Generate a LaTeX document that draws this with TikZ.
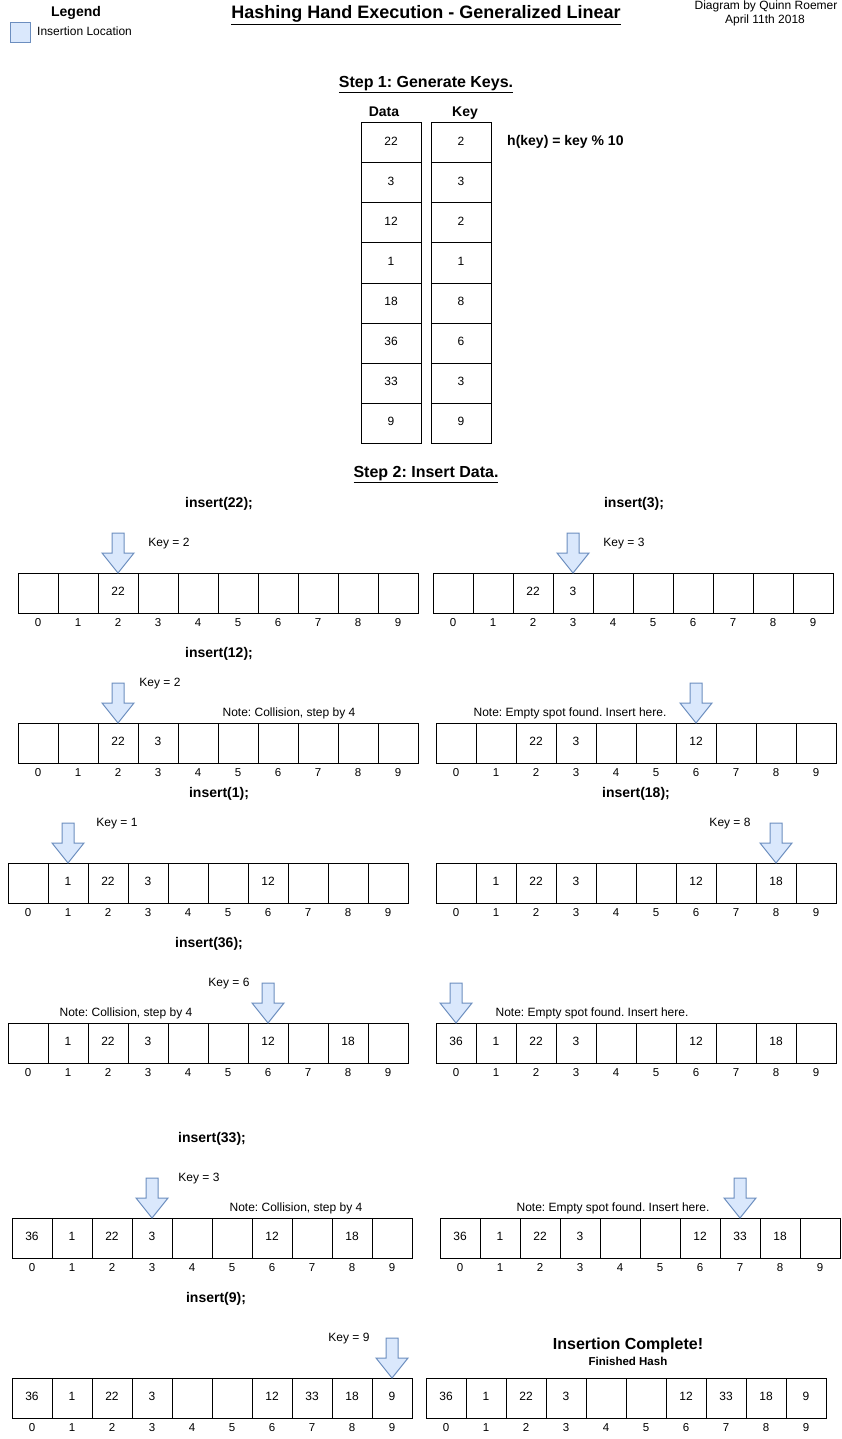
\documentclass[tikz,border=0pt]{standalone}
\usepackage{fontspec}
\setmainfont{Liberation Sans}
\frenchspacing
\usetikzlibrary{calc}
\definecolor{arrowfill}{HTML}{DAE8FC}
\definecolor{arrowline}{HTML}{6C8EBF}
\tikzset{
  cell/.style={draw=black, line width=1pt, minimum width=40pt, minimum height=40pt, inner sep=0pt, outer sep=0pt, text height=8.6pt, text depth=3pt, font=\fontsize{12}{14}\selectfont},
  tcell/.style={cell, minimum width=60pt},
  idx/.style={inner sep=0pt, anchor=base, yshift=-4.3pt, font=\fontsize{11.5}{13}\selectfont},
  lbl/.style={inner sep=0pt, anchor=base, yshift=-4.3pt, font=\fontsize{12}{14}\selectfont},
  blbl/.style={inner sep=0pt, anchor=base, yshift=-5pt, font=\fontsize{14}{16}\selectfont\bfseries},
  hbig/.style={inner sep=0pt, anchor=base, yshift=-5.8pt, font=\fontsize{16}{18}\selectfont\bfseries},
  barrow/.style={draw=arrowline, fill=arrowfill, line width=1pt, line join=miter},
}
\newcommand{\hashrow}[4]{%
  \foreach \v [count=\i from 0] in {#4} {
    \node[cell] (#1c\i) at ({#2+40*\i+20},{#3+20}) {\v};
    \node[idx] (#1i\i) at ({#2+40*\i+20},{#3+49}) {\i};
  }}
\newcommand{\blockarrow}[3]{%
  \coordinate (#1) at (#2,#3);
  \draw[barrow, shift={(#1)}] (-6,0) -- (6,0) -- (6,20) -- (16,20) -- (0,40) -- (-16,20) -- (-6,20) -- cycle;}
\begin{document}
\begin{tikzpicture}[x=1pt, y=-1pt]
\useasboundingbox (0,0) rectangle (841,1439);
\fill[white] (0,0) rectangle (841,1439);
% header
\node[blbl] (legend) at (76,12) {Legend};
\node[draw=arrowline, fill=arrowfill, line width=1pt, minimum width=20pt, minimum height=20pt, inner sep=0pt] (legbox) at (20.5,32.5) {};
\node[lbl, anchor=base west] (leglbl) at (37,31.5) {Insertion Location};
\node[inner sep=0pt, anchor=base, yshift=-6.5pt, font=\fontsize{18}{20}\selectfont\bfseries] (title) at (426,12) {\underline{Hashing Hand Execution - Generalized Linear}};
\node[lbl] (author) at (766,5) {Diagram by Quinn Roemer};
\node[lbl] (date) at (765,19) {April 11th 2018};
% step 1
\node[hbig] (step1) at (426,82) {\underline{Step 1: Generate Keys.}};
\node[blbl] (datah) at (384,112) {Data};
\node[blbl] (keyh) at (465,112) {Key};
\foreach \d/\k [count=\i from 0] in {22/2,3/3,12/2,1/1,18/8,36/6,33/3,9/9} {
  \node[tcell] (d\i) at (391,{143+40*\i}) {\d};
  \node[tcell] (k\i) at (461,{143+40*\i}) {\k};
}
\node[blbl, anchor=base west] (hfun) at (507,141) {h(key) = key \% 10};
% step 2
\node[hbig] (step2) at (426,472) {\underline{Step 2: Insert Data.}};
% insert 22 / 3
\node[blbl] (ins22) at (219,502) {insert(22);};
\node[blbl] (ins3) at (634,502) {insert(3);};
\hashrow{A}{18}{573}{{},{},22,{},{},{},{},{},{},{}}
\hashrow{B}{433}{573}{{},{},22,3,{},{},{},{},{},{}}
\blockarrow{aA}{118}{533}
\blockarrow{aB}{573}{533}
\node[lbl] (kA) at (169,542) {Key = 2};
\node[lbl] (kB) at (624,542) {Key = 3};
% insert 12
\node[blbl] (ins12) at (219,652) {insert(12);};
\hashrow{C}{18}{723}{{},{},22,3,{},{},{},{},{},{}}
\hashrow{D}{436}{723}{{},{},22,3,{},{},12,{},{},{}}
\blockarrow{aC}{118}{683}
\blockarrow{aD}{696}{683}
\node[lbl] (kC) at (160,682) {Key = 2};
\node[lbl] (nC) at (289,712) {Note: Collision, step by 4};
\node[lbl] (nD) at (570,712) {Note: Empty spot found. Insert here.};
% insert 1 / 18
\node[blbl] (ins1) at (219,792) {insert(1);};
\node[blbl] (ins18) at (636,792) {insert(18);};
\hashrow{E}{8}{863}{{},1,22,3,{},{},12,{},{},{}}
\hashrow{F}{436}{863}{{},1,22,3,{},{},12,{},18,{}}
\blockarrow{aE}{68}{823}
\blockarrow{aF}{776}{823}
\node[lbl] (kE) at (117,822) {Key = 1};
\node[lbl] (kF) at (730,822) {Key = 8};
% insert 36
\node[blbl] (ins36) at (209,942) {insert(36);};
\hashrow{G}{8}{1023}{{},1,22,3,{},{},12,{},18,{}}
\hashrow{H}{436}{1023}{36,1,22,3,{},{},12,{},18,{}}
\blockarrow{aG}{268}{983}
\blockarrow{aH}{456}{983}
\node[lbl] (kG) at (229,982) {Key = 6};
\node[lbl] (nG) at (126,1012) {Note: Collision, step by 4};
\node[lbl] (nH) at (592,1012) {Note: Empty spot found. Insert here.};
% insert 33
\node[blbl] (ins33) at (212,1137) {insert(33);};
\hashrow{I}{12}{1218}{36,1,22,3,{},{},12,{},18,{}}
\hashrow{J}{440}{1218}{36,1,22,3,{},{},12,33,18,{}}
\blockarrow{aI}{152}{1178}
\blockarrow{aJ}{740}{1178}
\node[lbl] (kI) at (199,1177) {Key = 3};
\node[lbl] (nI) at (296,1207) {Note: Collision, step by 4};
\node[lbl] (nJ) at (613,1207) {Note: Empty spot found. Insert here.};
% insert 9
\node[blbl] (ins9) at (216,1297) {insert(9);};
\hashrow{K}{12}{1378}{36,1,22,3,{},{},12,33,18,9}
\hashrow{L}{426}{1378}{36,1,22,3,{},{},12,33,18,9}
\blockarrow{aK}{392}{1338}
\node[lbl] (kK) at (349,1337) {Key = 9};
\node[hbig] (done) at (628,1344) {Insertion Complete!};
\node[inner sep=0pt, anchor=base, yshift=-4.1pt, font=\fontsize{11.5}{13}\selectfont\bfseries] (fin) at (628,1361) {Finished Hash};
\end{tikzpicture}
\end{document}
